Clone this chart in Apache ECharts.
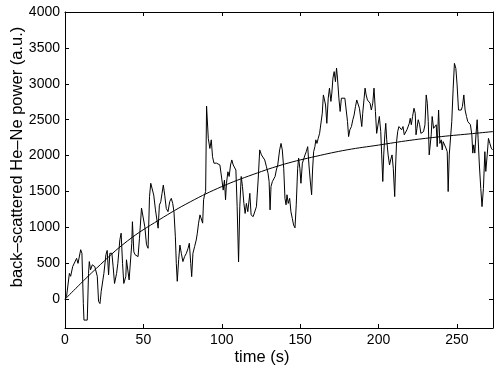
<!DOCTYPE html>
<html>
<head>
<meta charset="utf-8">
<script src="https://cdn.jsdelivr.net/npm/echarts@6/dist/echarts.min.js"></script>
<style>
  html, body { margin: 0; padding: 0; background: #fff; }
  #main { width: 498px; height: 370px; }
</style>
</head>
<body>
<div id="main"></div>
<script>
// measured trace: time (s) and back-scattered power (a.u.)
const times = [
  0, 1, 2.8, 3.6, 4.9, 6.1, 7.4, 8.3, 10, 10.8, 11.7, 12.1, 14.2, 15, 15.5, 16.3, 17.4, 19, 20.6, 21.4,
  22.3, 23.1, 24, 24.8, 26.1, 26.9, 27.8, 28.6, 29.9, 30.7, 31.6, 32.9, 33.7, 35, 35.8, 36.7, 37.5, 38.8, 39.2, 40.3,
  40.9, 41.8, 42.6, 43, 43.9, 44.7, 46.6, 47.5, 48.8, 49.8, 50.9, 52, 53, 53.9, 54.7, 55.6, 56.6, 57.7, 58.5, 59.4,
  60.2, 61.1, 61.9, 62.7, 63.6, 64.6, 65.7, 66.8, 67.8, 68.7, 69.5, 70.4, 71, 71.6, 72.5, 73.3, 74.2, 75.2, 76.3, 77.4,
  78.5, 79.3, 80.2, 80.8, 81.6, 82.7, 83.7, 84.4, 85.2, 86.1, 86.9, 87.8, 88.4, 89, 89.7, 90.3, 91.4, 92.4, 93.3, 94.1,
  95, 95.8, 96.7, 97.7, 98.8, 99.6, 100.1, 100.9, 101.7, 102.4, 103, 103.9, 104.7, 105.6, 106.4, 107.3, 108.1, 109, 109.8, 110.7,
  111.5, 112.4, 113.2, 114.1, 114.9, 115.7, 116.6, 117.2, 117.9, 118.7, 120, 121.1, 122.1, 123.2, 124.2, 125.3, 126.4, 127.4, 128.5, 129.5,
  130.2, 130.8, 131.4, 132.3, 133.1, 134, 134.8, 135.7, 136.9, 137.8, 138.6, 139.5, 140.3, 141, 141.6, 142.4, 143.3, 144.1, 145, 145.8,
  146.7, 147.5, 148.4, 149, 149.8, 150.5, 151.4, 152.2, 153.1, 153.9, 154.8, 155.6, 156.4, 157.3, 157.9, 158.6, 159.4, 160, 160.7, 161.5,
  162.4, 163.2, 164.1, 164.8, 165.3, 166.2, 167, 167.9, 168.7, 169.6, 170.2, 170.9, 171.7, 172.5, 173.2, 173.8, 174.7, 175.5, 176.3, 177.4,
  178.5, 179.3, 180.2, 180.9, 181.7, 182.7, 183.6, 184.4, 185.3, 186.1, 187, 187.8, 188.7, 189.3, 189.9, 190.8, 191.4, 192.1, 192.9, 193.8,
  194.6, 195.4, 196.3, 197.1, 198, 198.8, 199.7, 200.5, 201.4, 202, 202.7, 203.3, 204, 204.6, 205.2, 206.1, 207, 207.7, 208.6, 209.4,
  210.3, 210.9, 211.5, 212.2, 213, 213.9, 214.7, 215.6, 216.4, 217.3, 218.1, 219, 219.6, 220.2, 220.9, 221.7, 222.6, 223.4, 223.9, 224.5,
  225.3, 226.2, 227, 227.7, 228.7, 229.6, 230.4, 231.1, 231.7, 232.3, 233, 233.6, 234.2, 235.1, 236, 236.8, 237.4, 238.3, 239.1, 240,
  240.6, 241.2, 242.1, 243, 243.8, 244.4, 245.1, 245.9, 246.7, 247.6, 248.4, 249.3, 250.1, 251, 251.8, 252.7, 253.5, 254.4, 255.2, 256.1,
  256.9, 257.8, 258.6, 259.5, 260.1, 260.7, 261.4, 262.2, 262.9, 263.5, 264.3, 265.2, 266, 266.9, 267.8, 268.4, 269.3, 270.1, 271, 271.9,
  272.7
];
const power = [
  0, 40, 360, 320, 455, 430, 570, 500, 690, 640, -60, -290, -290, 360, 525, 410, 480, 455, 320, -30,
  -60, 110, 85, 360, 620, 680, 340, 640, 640, 455, 220, 360, 500, 830, 920, 500, 220, 320, 550, 570,
  270, 270, 780, 1080, 660, 620, 594, 850, 1270, 1290, 1010, 760, 710, 1430, 1615, 1590, 1450, 1245, 1265, 990,
  1310, 1360, 1475, 1590, 1450, 1265, 1220, 1360, 1405, 1335, 1220, 870, 500, 250, 550, 755, 640, 525, 595, 640,
  710, 780, 500, 315, 640, 735, 825, 920, 1060, 1175, 1150, 1060, 1385, 1450, 1500, 2690, 2240, 2100, 2220, 1985,
  1895, 1915, 1895, 1915, 1870, 1845, 1660, 1520, 1660, 1385, 1615, 1775, 1710, 1870, 1940, 1870, 1845, 1800, 1290, 520,
  1290, 1710, 1570, 1335, 1195, 1335, 1220, 1195, 1475, 1175, 1150, 1175, 1290, 1660, 2080, 2010, 1985, 1940, 1845, 1755,
  1640, 1245, 1570, 1640, 1615, 1710, 1800, 1870, 2080, 2170, 2080, 1825, 1405, 1315, 1455, 1335, 1405, 1220, 1125, 1035,
  995, 1315, 1825, 1965, 1825, 1615, 1895, 1915, 2010, 2055, 2125, 1870, 1660, 1455, 1800, 2055, 2125, 2220, 2170, 2240,
  2310, 2290, 2590, 2845, 2800, 2705, 2450, 2800, 2940, 2755, 2870, 3080, 3170, 3030, 3220, 3080, 2800, 2615, 2800, 2775,
  2800, 2820, 2475, 2265, 2360, 2405, 2500, 2565, 2685, 2775, 2755, 2660, 2635, 2405, 2590, 2800, 2940, 2845, 2775, 2800,
  2730, 2635, 2730, 2940, 2615, 2310, 2290, 2545, 2335, 2010, 1640, 2010, 2290, 2450, 2220, 2010, 1870, 1940, 2010, 1825,
  1430, 1870, 2195, 2335, 2405, 2405, 2360, 2405, 2290, 2265, 2360, 2335, 2450, 2520, 2430, 2545, 2660, 2590, 2290, 2380,
  2500, 2430, 2310, 2290, 2335, 2430, 2845, 2730, 2475, 2010, 2035, 2290, 2545, 2380, 2405, 2430, 2125, 2635, 2170, 2220,
  2080, 2195, 2170, 2105, 2055, 1500, 2010, 2035, 2475, 2940, 3285, 3215, 2985, 2635, 2615, 2635, 2685, 2845, 2635, 2545,
  2475, 2450, 2430, 2290, 2035, 2150, 2035, 2310, 2500, 2240, 1870, 1545, 1290, 1545, 2055, 1780, 2010, 2240, 2170, 2105,
  2080
];

// saturating fit curve
const fitTimes = [0, 20, 40, 60, 80, 100, 120, 140, 160, 180, 200, 220, 240, 260, 273];
const fitPower = [0, 430, 815, 1105, 1358, 1569, 1738, 1882, 1990, 2081, 2147, 2213, 2265, 2307, 2335];

const xTicks = [0, 50, 100, 150, 200, 250];
const yTicks = [0, 500, 1000, 1500, 2000, 2500, 3000, 3500, 4000];

const chartDom = document.getElementById("main");
const myChart = echarts.init(chartDom);

const font = "Liberation Sans";
const black = "#000";

function pairs(xs, ys) {
  return xs.map((x, i) => [x, ys[i]]);
}

function axisCommon(ticks, showLabel) {
  return {
    type: "value",
    axisLine: { show: true, onZero: false, lineStyle: { color: black, width: 1 } },
    axisTick: { show: true, inside: true, length: 4, customValues: ticks, lineStyle: { color: black } },
    axisLabel: {
      show: showLabel,
      customValues: ticks,
      formatter: (v) => String(v),
      color: black,
      fontFamily: font,
      fontSize: 14,
      margin: 5
    },
    splitLine: { show: false }
  };
}

const xMin = 0, xMax = 273;
const yMin = -400, yMax = 4000;

const option = {
  animation: false,
  backgroundColor: "#fff",
  grid: { left: 65, right: 5, top: 12, bottom: 42 },
  xAxis: [
    Object.assign(axisCommon(xTicks, true), { min: xMin, max: xMax, position: "bottom" }),
    Object.assign(axisCommon(xTicks, false), { min: xMin, max: xMax, position: "top" })
  ],
  yAxis: [
    Object.assign(axisCommon(yTicks, true), { min: yMin, max: yMax, position: "left" }),
    Object.assign(axisCommon(yTicks, false), { min: yMin, max: yMax, position: "right" })
  ],
  graphic: [
    {
      type: "text",
      x: 262, y: 357,
      style: { text: "time (s)", fill: black, font: "16.5px " + font, textAlign: "center", textVerticalAlign: "middle" }
    },
    {
      type: "text",
      x: 17, y: 157,
      rotation: Math.PI / 2,
      style: { text: "back–scattered He–Ne power (a.u.)", fill: black, font: "16.5px " + font, textAlign: "center", textVerticalAlign: "middle" }
    }
  ],
  series: [
    {
      name: "measured",
      type: "line",
      data: pairs(times, power),
      showSymbol: false,
      lineStyle: { color: black, width: 1 },
      clip: true
    },
    {
      name: "fit",
      type: "line",
      data: pairs(fitTimes, fitPower),
      smooth: 0.4,
      showSymbol: false,
      lineStyle: { color: black, width: 1 },
      clip: true
    }
  ]
};

option && myChart.setOption(option);
</script>
</body>
</html>
